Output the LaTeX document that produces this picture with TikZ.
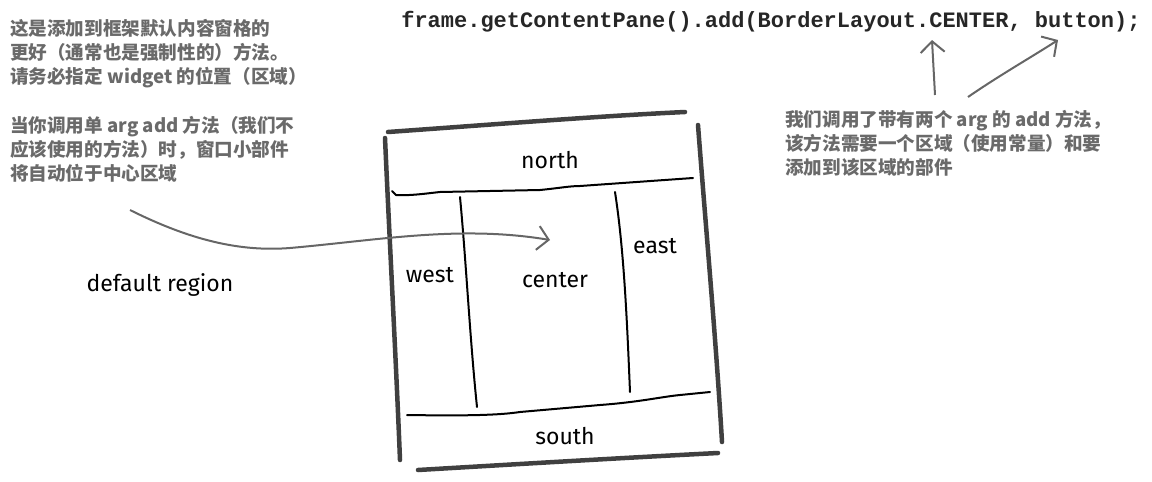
\documentclass[tikz,border=0pt]{standalone}
\usepackage{fontspec}
\setmainfont{Fira Sans}
\newfontfamily\cjk{Noto Sans CJK SC}
\newfontfamily\codefont{Liberation Mono}
\newfontfamily\handfont{Fira Sans}
\usetikzlibrary{arrows.meta}
\definecolor{notegray}{HTML}{6A6A6A}
\definecolor{framegray}{HTML}{404040}
\definecolor{arrowgray}{HTML}{666666}
\tikzset{
  note/.style={font=\cjk\bfseries\fontsize{18.6}{24}\selectfont, text=notegray, align=left, anchor=north west, inner sep=0pt},
  code/.style={font=\codefont\bfseries\fontsize{22}{26}\selectfont, text=black!85, inner sep=0pt},
  hand/.style={font=\handfont\fontsize{23}{26}\selectfont, text=black, inner sep=0pt},
  frameline/.style={line width=4.5pt, color=framegray, line cap=round},
  sepline/.style={line width=2pt, color=black, line cap=round},
  ptr/.style={line width=2pt, color=arrowgray, -{Straight Barb[length=11pt,width=24pt,line width=2pt]}},
}
\begin{document}
\begin{tikzpicture}[x=1pt,y=-1pt]
\useasboundingbox (0,0) rectangle (1152,482);
% notes
\node[note] (n1) at (10,19) {这是添加到框架默认内容窗格的\\更好（通常也是强制性的）方法。\\请务必指定 widget 的位置（区域）};
\node[note] (n2) at (10,116) {当你调用单 arg add 方法（我们不\\应该使用的方法）时，窗口小部件\\将自动位于中心区域};
\node[note] (n3) at (785,110) {我们调用了带有两个 arg 的 add 方法，\\该方法需要一个区域（使用常量）和要\\添加到该区域的部件};
\node[code] (code) at (771,22) {frame.getContentPane().add(BorderLayout.CENTER, button);};
% frame
\draw[frameline] (388,132) .. controls (500,124) and (600,116) .. (685,112);
\draw[frameline] (385,138) .. controls (390,250) and (396,360) .. (400,460);
\draw[frameline] (698,125) .. controls (706,230) and (716,340) .. (722,442);
\draw[frameline] (418,470) .. controls (520,464) and (620,458) .. (718,453);
% separators
\draw[sepline] (392,191) -- (396,195) .. controls (410,196) and (430,193) .. (440,192) -- (540,190) .. controls (560,188) and (570,186) .. (580,186) -- (693,178);
\draw[sepline] (460,197) .. controls (466,260) and (470,340) .. (477,407);
\draw[sepline] (615,192) .. controls (624,250) and (627,320) .. (630,392);
\draw[sepline] (407,415) .. controls (470,416) and (500,415) .. (520,412) -- (600,405) .. controls (640,402) and (660,397) .. (680,395) -- (710,392);
% labels
\node[hand] (north) at (550,160) {north};
\node[hand] (west) at (430,275) {west};
\node[hand] (center) at (555,280) {center};
\node[hand] (east) at (655,246) {east};
\node[hand] (south) at (565,436) {south};
\node[hand] (default) at (160,285) {default region};
% arrows
\coordinate (cs) at (130,210);
\coordinate (ce) at (550,240);
\draw[ptr] (cs) .. controls (190,240) and (240,252) .. (290,248) .. controls (380,240) and (460,225) .. (ce);
\coordinate (a1s) at (935,95);
\coordinate (a1e) at (932,40);
\coordinate (a2s) at (968,97);
\coordinate (a2e) at (1058,40);
\draw[ptr] (a1s) -- (a1e);
\draw[ptr] (a2s) .. controls (1000,75) and (1030,58) .. (a2e);
\end{tikzpicture}
\end{document}
